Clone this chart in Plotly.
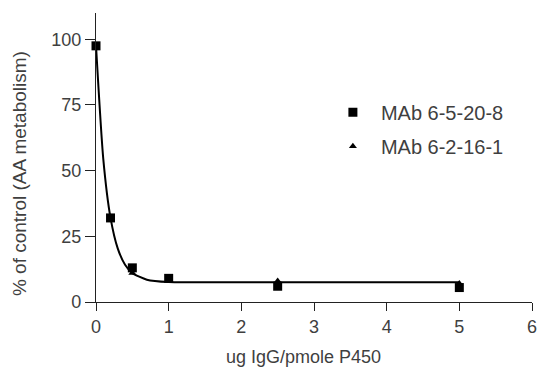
import plotly.graph_objects as go

# Data
sq_x = [0, 0.2, 0.5, 1, 2.5, 5]
sq_y = [97.5, 32, 13, 9, 6, 5.5]
tri_x = [0.5, 2.5, 5]
tri_y = [11, 8, 7]
curve_x = [0, 0.1, 0.2, 0.3, 0.4, 0.5, 0.7, 1, 1.5, 2, 3, 4, 5]
curve_y = [97.5, 54.5, 32, 20.3, 14.2, 11, 8.5, 7.6, 7.5, 7.5, 7.5, 7.5, 7.5]
x_ticks = [0, 1, 2, 3, 4, 5, 6]
y_ticks = [0, 25, 50, 75, 100]
x_title = "ug IgG/pmole P450"
y_title = "% of control (AA metabolism)"

FONT = "Liberation Sans, Arial, sans-serif"
TXT = "#3f3f3f"

fig = go.Figure()
fig.add_trace(go.Scatter(x=curve_x, y=curve_y, mode="lines", line=dict(color="black", width=2, shape="spline", smoothing=0.6),
                         showlegend=False, hoverinfo="skip", cliponaxis=False))
fig.add_trace(go.Scatter(x=sq_x, y=sq_y, mode="markers", name="MAb 6-5-20-8",
                         marker=dict(symbol="square", size=9, color="black"), cliponaxis=False, legendgroup="a"))
fig.add_trace(go.Scatter(x=tri_x, y=tri_y, mode="markers", name="MAb 6-2-16-1",
                         marker=dict(symbol="triangle-up", size=7, color="black"), cliponaxis=False, legendgroup="b"))

fig.update_layout(
    width=537, height=369,
    margin=dict(l=96, r=5, t=13, b=67, autoexpand=False),
    plot_bgcolor="white", paper_bgcolor="white",
    font=dict(family=FONT, color=TXT, size=18),
    showlegend=True,
    legend=dict(x=0.525, y=0.724, xanchor="left", yanchor="top", font=dict(size=20, color=TXT),
                tracegroupgap=5, itemwidth=46, bgcolor="rgba(0,0,0,0)"),
    xaxis=dict(range=[0, 6], tickvals=x_ticks, ticks="outside", ticklen=8, tickwidth=1.3, tickcolor="#222",
               showline=True, linecolor="#222", linewidth=1.3, showgrid=False, zeroline=False, automargin=False,
               ticklabeloverflow="allow", tickfont=dict(size=18, color=TXT)),
    yaxis=dict(range=[0, 110], tickvals=y_ticks, ticks="outside", ticklen=10, tickwidth=1.3, tickcolor="#222",
               showline=True, linecolor="#222", linewidth=1.3, showgrid=False, zeroline=False, automargin=False,
               tickfont=dict(size=18, color=TXT)),
    annotations=[
        dict(text=x_title, xref="paper", yref="paper", x=0.475, y=-0.19, xanchor="center", yanchor="middle",
             showarrow=False, font=dict(size=18, color=TXT)),
        dict(text=y_title, xref="paper", yref="paper", x=-0.174, y=0.443, xanchor="center", yanchor="middle",
             textangle=-90, showarrow=False, font=dict(size=19, color=TXT)),
    ],
)

# remove the browser's default 8px body margin so the figure fills the window exactly
fig.write_html("out.html", config={"displayModeBar": False},
               post_script="document.body.style.margin='0';document.body.style.overflow='hidden';")
